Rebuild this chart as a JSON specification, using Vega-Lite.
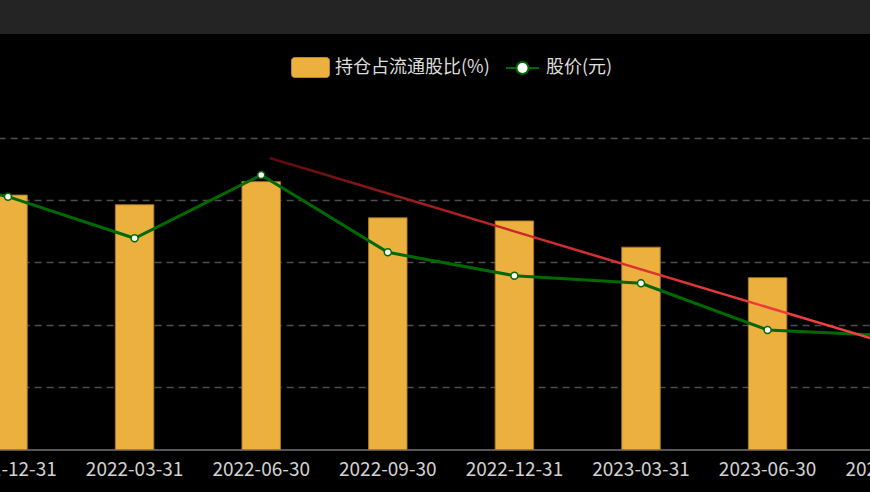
{
  "$schema": "https://vega.github.io/schema/vega-lite/v6.json",
  "autosize": {"type": "none"},
  "padding": {"left": -181.9, "right": -87.5, "top": 34, "bottom": 0},
  "width": 1139.4,
  "height": 458,
  "background": "#242424",
  "config": {
    "view": {"fill": "#000000", "stroke": null},
    "font": "Noto Sans CJK SC"
  },
  "datasets": {
    "holding": [
      {"date": "2021-09-30", "pct": 8.0, "price": 45.0},
      {"date": "2021-12-31", "pct": 8.16, "price": 40.54},
      {"date": "2022-03-31", "pct": 7.85, "price": 33.87},
      {"date": "2022-06-30", "pct": 8.59, "price": 44.02},
      {"date": "2022-09-30", "pct": 7.43, "price": 31.62},
      {"date": "2022-12-31", "pct": 7.33, "price": 27.87},
      {"date": "2023-03-31", "pct": 6.49, "price": 26.65},
      {"date": "2023-06-30", "pct": 5.51, "price": 19.16},
      {"date": "2023-09-30", "pct": 5.2, "price": 18.2}
    ],
    "trend": [
      {"date": "2022-06-30", "price": 46.74},
      {"date": "2023-09-30", "price": 16.31}
    ]
  },
  "layer": [
    {
      "data": {"name": "holding"},
      "mark": {"type": "bar", "stroke": "#a87a26", "strokeWidth": 1, "strokeOpacity": 0.9},
      "encoding": {
        "x": {
          "field": "date", "type": "ordinal",
          "scale": {"paddingInner": 0.696, "paddingOuter": 0.348},
          "axis": {
            "title": null, "labelAngle": 0, "labelOverlap": false, "labelBound": false,
            "labelFontSize": 19, "labelColor": "#d2d2d2", "labelFont": "Noto Sans CJK SC",
            "labelPadding": 11, "ticks": false, "offset": -42.5,
            "domainColor": "#575757", "domainWidth": 2, "grid": false
          }
        },
        "y": {
          "field": "pct", "type": "quantitative",
          "scale": {"domain": [-1.363, 13.326], "nice": false, "zero": false},
          "axis": {
            "values": [2, 4, 6, 8, 10], "grid": true, "labels": false, "ticks": false,
            "domain": false, "title": null,
            "gridColor": "#4d4d4d", "gridDash": [7, 5], "gridWidth": 1.5
          }
        },
        "color": {
          "datum": "持仓占流通股比(%)",
          "scale": {"range": ["#ecb03e"]},
          "legend": {
            "orient": "none", "legendX": 472.9, "legendY": 14, "title": null, "padding": 0,
            "symbolType": "M-0.842,-0.526 H0.842 A0.158,0.158 0 0 1 1,-0.368 V0.368 A0.158,0.158 0 0 1 0.842,0.526 H-0.842 A0.158,0.158 0 0 1 -1,0.368 V-0.368 A0.158,0.158 0 0 1 -0.842,-0.526 Z",
            "symbolSize": 1444, "symbolStrokeColor": "#b8862c", "symbolStrokeWidth": 1,
            "labelFontSize": 18, "labelFont": "Noto Sans CJK SC", "labelColor": "#dddddd", "labelOffset": 5
          }
        }
      }
    },
    {
      "data": {"name": "holding"},
      "mark": {
        "type": "line", "strokeWidth": 3,
        "point": {"filled": true, "fill": "#ffffff", "size": 49, "strokeWidth": 1.5}
      },
      "encoding": {
        "x": {"field": "date", "type": "ordinal"},
        "y": {
          "field": "price", "type": "quantitative",
          "scale": {"domain": [-6.815, 66.63], "nice": false, "zero": false},
          "axis": null
        },
        "stroke": {
          "datum": "股价(元)",
          "scale": {"range": ["#006a00"]},
          "legend": {
            "orient": "none", "legendX": 686.9, "legendY": 16.5, "title": null, "padding": 0,
            "symbolType": "M-1,0 H-0.364 M0.364,0 H1 M0.364,0 A0.364,0.364 0 1 1 -0.364,0 A0.364,0.364 0 1 1 0.364,0 Z",
            "symbolSize": 1089, "symbolStrokeWidth": 2,
            "labelFontSize": 18, "labelFont": "Noto Sans CJK SC", "labelColor": "#dddddd", "labelOffset": 6,
            "encode": {"symbols": {"update": {"fill": {"value": "#ffffff"}, "strokeWidth": {"value": 2}}}}
          }
        }
      }
    },
    {
      "data": {"name": "trend"},
      "mark": {
        "type": "line", "strokeWidth": 2.5, "xOffset": 8.5,
        "color": {
          "gradient": "linear", "x1": 0, "y1": 0, "x2": 1, "y2": 0,
          "stops": [
            {"offset": 0, "color": "#5c0a0a"},
            {"offset": 0.4, "color": "#cc2a2a"},
            {"offset": 1, "color": "#ff4545"}
          ]
        }
      },
      "encoding": {
        "x": {"field": "date", "type": "ordinal"},
        "y": {
          "field": "price", "type": "quantitative",
          "scale": {"domain": [-6.815, 66.63], "nice": false, "zero": false},
          "axis": null
        }
      }
    }
  ],
  "resolve": {"scale": {"y": "independent"}}
}
